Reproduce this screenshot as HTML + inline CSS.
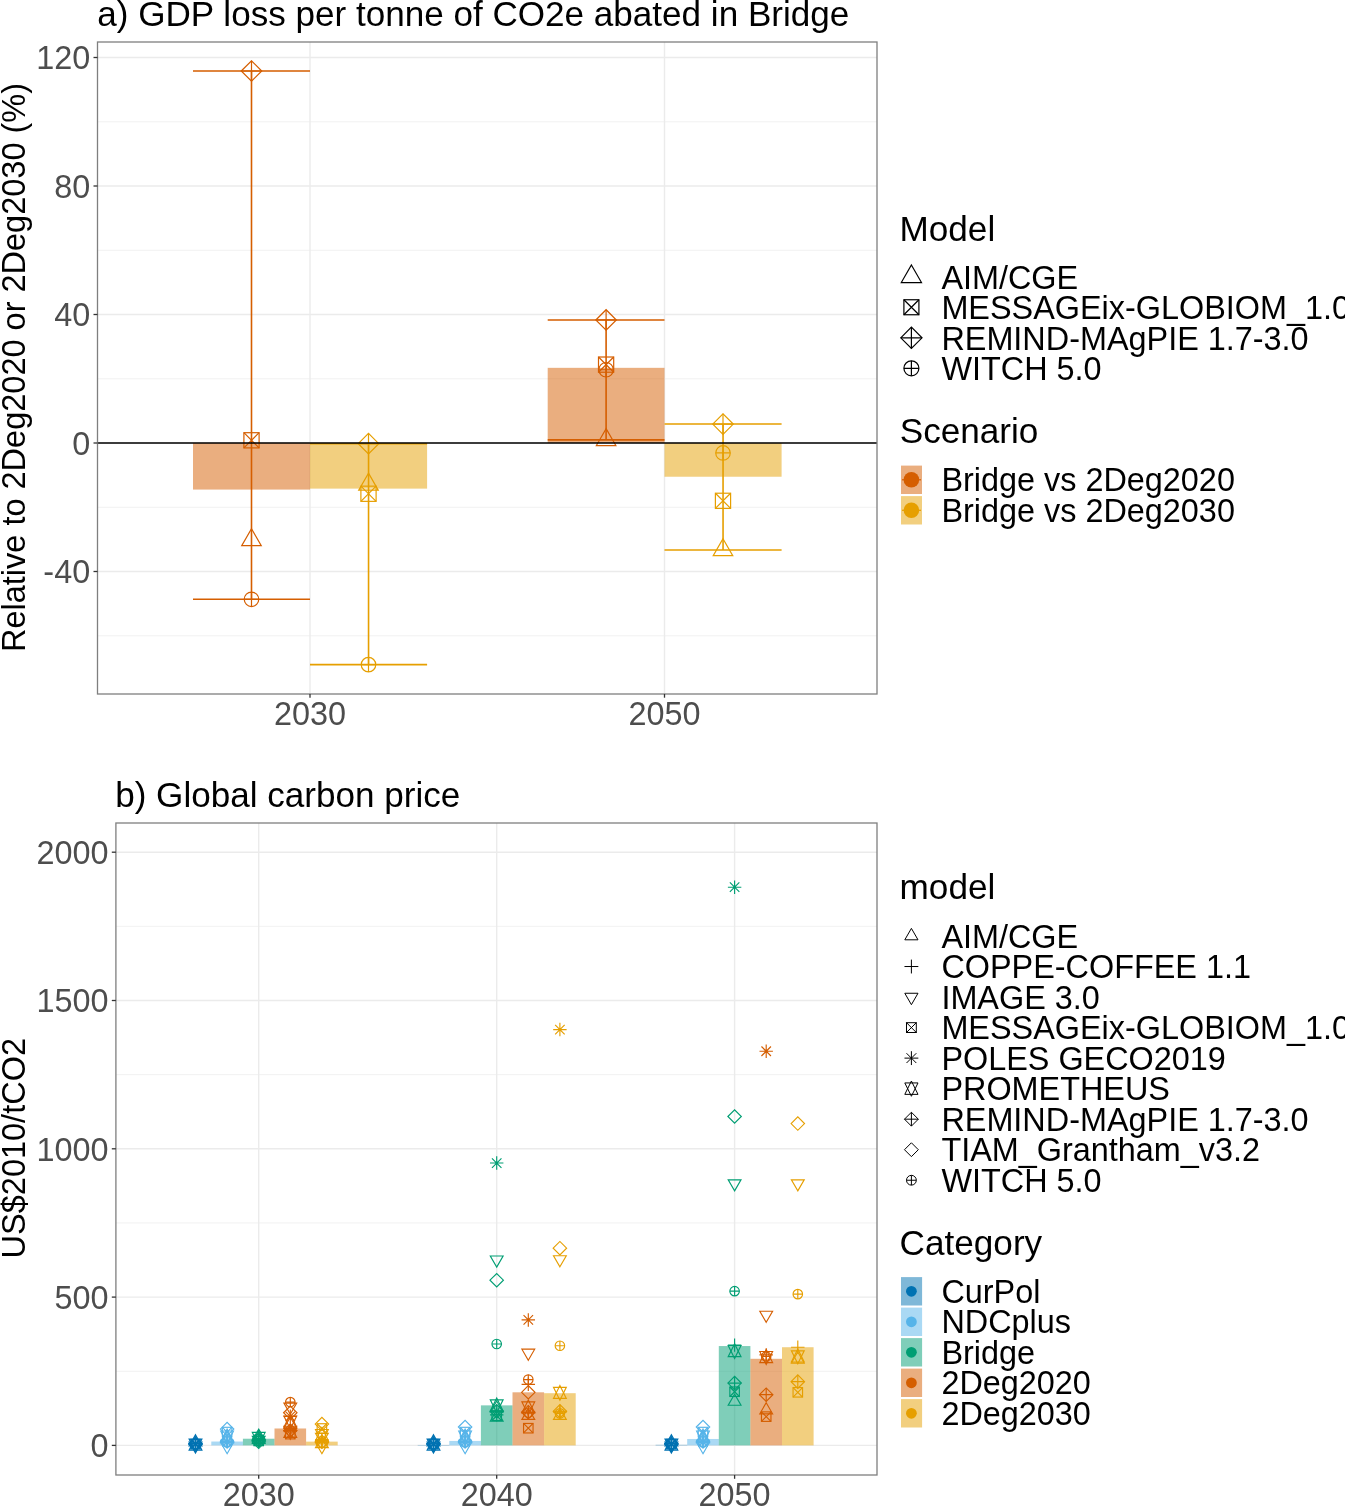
<!DOCTYPE html><html><head><meta charset="utf-8"><style>
html,body{margin:0;padding:0;background:#fff;}
body{width:1345px;height:1507px;overflow:hidden;}
svg{display:block;filter:blur(0.45px);}
text{font-family:"Liberation Sans",sans-serif;}
.tk{font-size:32.4px;fill:#4D4D4D;}
.ti{font-size:35.1px;fill:#000;}
.at{font-size:32.5px;fill:#000;}
.lt{font-size:35.15px;fill:#000;}
.lx{font-size:32.4px;fill:#000;}
</style></head><body><svg width="1345" height="1507" viewBox="0 0 1345 1507">
<rect width="1345" height="1507" fill="#fff"/>
<line x1="97.5" x2="877.0" y1="121.75" y2="121.75" stroke="#EBEBEB" stroke-width="0.7"/>
<line x1="97.5" x2="877.0" y1="250.25" y2="250.25" stroke="#EBEBEB" stroke-width="0.7"/>
<line x1="97.5" x2="877.0" y1="378.75" y2="378.75" stroke="#EBEBEB" stroke-width="0.7"/>
<line x1="97.5" x2="877.0" y1="507.25" y2="507.25" stroke="#EBEBEB" stroke-width="0.7"/>
<line x1="97.5" x2="877.0" y1="635.75" y2="635.75" stroke="#EBEBEB" stroke-width="0.7"/>
<line x1="97.5" x2="877.0" y1="57.5" y2="57.5" stroke="#EBEBEB" stroke-width="1.4"/>
<line x1="97.5" x2="877.0" y1="186" y2="186" stroke="#EBEBEB" stroke-width="1.4"/>
<line x1="97.5" x2="877.0" y1="314.5" y2="314.5" stroke="#EBEBEB" stroke-width="1.4"/>
<line x1="97.5" x2="877.0" y1="443" y2="443" stroke="#EBEBEB" stroke-width="1.4"/>
<line x1="97.5" x2="877.0" y1="571.5" y2="571.5" stroke="#EBEBEB" stroke-width="1.4"/>
<line x1="310" x2="310" y1="42.0" y2="694.0" stroke="#EBEBEB" stroke-width="1.4"/>
<line x1="664.5" x2="664.5" y1="42.0" y2="694.0" stroke="#EBEBEB" stroke-width="1.4"/>
<rect x="193" y="443" width="117" height="46.58" fill="#D55E00" fill-opacity="0.5"/>
<rect x="310" y="443" width="117.1" height="45.62" fill="#E69F00" fill-opacity="0.5"/>
<rect x="547.7" y="367.83" width="116.8" height="75.17" fill="#D55E00" fill-opacity="0.5"/>
<rect x="664.5" y="443" width="117.1" height="33.73" fill="#E69F00" fill-opacity="0.5"/>
<path d="M193 70.99H310M251.5 70.99V599.29M193 599.29H310" fill="none" stroke="#D55E00" stroke-width="1.6"/>
<path d="M310 443.8H427.1M368.55 443.8V664.66M310 664.66H427.1" fill="none" stroke="#E69F00" stroke-width="1.6"/>
<path d="M547.7 319.96H664.5M606.1 319.96V439.92M547.7 439.92H664.5" fill="none" stroke="#D55E00" stroke-width="1.6"/>
<path d="M664.5 424.05H781.6M723.05 424.05V549.98M664.5 549.98H781.6" fill="none" stroke="#E69F00" stroke-width="1.6"/>
<polygon points="241.25,70.99 251.5,60.74 261.75,70.99 251.5,81.25" fill="none" stroke="#D55E00" stroke-width="1.2"/><path d="M241.25 70.99H261.75M251.5 60.74V81.25" fill="none" stroke="#D55E00" stroke-width="1.2"/>
<rect x="243.9" y="432.7" width="15.2" height="15.2" fill="none" stroke="#D55E00" stroke-width="1.2"/><path d="M243.9 432.7L259.1 447.9M243.9 447.9L259.1 432.7" fill="none" stroke="#D55E00" stroke-width="1.2"/>
<polygon points="251.5,528.74 261.26,545.65 241.74,545.65" fill="none" stroke="#D55E00" stroke-width="1.2"/>
<circle cx="251.5" cy="599.29" r="7.25" fill="none" stroke="#D55E00" stroke-width="1.2"/><path d="M244.25 599.29H258.75M251.5 592.04V606.54" fill="none" stroke="#D55E00" stroke-width="1.2"/>
<polygon points="358.25,443.64 368.5,433.39 378.75,443.64 368.5,453.9" fill="none" stroke="#E69F00" stroke-width="1.2"/><path d="M358.25 443.64H378.75M368.5 433.39V453.9" fill="none" stroke="#E69F00" stroke-width="1.2"/>
<polygon points="368.5,473.17 378.26,490.08 358.74,490.08" fill="none" stroke="#E69F00" stroke-width="1.2"/>
<rect x="360.9" y="486.16" width="15.2" height="15.2" fill="none" stroke="#E69F00" stroke-width="1.2"/><path d="M360.9 486.16L376.1 501.36M360.9 501.36L376.1 486.16" fill="none" stroke="#E69F00" stroke-width="1.2"/>
<circle cx="368.5" cy="664.66" r="7.25" fill="none" stroke="#E69F00" stroke-width="1.2"/><path d="M361.25 664.66H375.75M368.5 657.41V671.91" fill="none" stroke="#E69F00" stroke-width="1.2"/>
<polygon points="595.85,319.96 606.1,309.71 616.35,319.96 606.1,330.21" fill="none" stroke="#D55E00" stroke-width="1.2"/><path d="M595.85 319.96H616.35M606.1 309.71V330.21" fill="none" stroke="#D55E00" stroke-width="1.2"/>
<rect x="598.5" y="357.01" width="15.2" height="15.2" fill="none" stroke="#D55E00" stroke-width="1.2"/><path d="M598.5 357.01L613.7 372.22M598.5 372.22L613.7 357.01" fill="none" stroke="#D55E00" stroke-width="1.2"/>
<circle cx="606.1" cy="369.75" r="7.25" fill="none" stroke="#D55E00" stroke-width="1.2"/><path d="M598.85 369.75H613.35M606.1 362.5V377" fill="none" stroke="#D55E00" stroke-width="1.2"/>
<polygon points="606.1,428.64 615.86,445.55 596.34,445.55" fill="none" stroke="#D55E00" stroke-width="1.2"/>
<polygon points="712.75,424.05 723,413.79 733.25,424.05 723,434.3" fill="none" stroke="#E69F00" stroke-width="1.2"/><path d="M712.75 424.05H733.25M723 413.79V434.3" fill="none" stroke="#E69F00" stroke-width="1.2"/>
<circle cx="723" cy="452.96" r="7.25" fill="none" stroke="#E69F00" stroke-width="1.2"/><path d="M715.75 452.96H730.25M723 445.71V460.21" fill="none" stroke="#E69F00" stroke-width="1.2"/>
<rect x="715.4" y="493.22" width="15.2" height="15.2" fill="none" stroke="#E69F00" stroke-width="1.2"/><path d="M715.4 493.22L730.6 508.43M715.4 508.43L730.6 493.22" fill="none" stroke="#E69F00" stroke-width="1.2"/>
<polygon points="723,538.7 732.76,555.61 713.24,555.61" fill="none" stroke="#E69F00" stroke-width="1.2"/>
<line x1="97.5" x2="877.0" y1="443" y2="443" stroke="#000" stroke-width="1.45"/>
<rect x="97.5" y="42.0" width="779.5" height="652" fill="none" stroke="#7f7f7f" stroke-width="1.3"/>
<line x1="93.5" x2="97.5" y1="57.5" y2="57.5" stroke="#333333" stroke-width="1.3"/>
<text x="90.2" y="69.4" text-anchor="end" class="tk">120</text>
<line x1="93.5" x2="97.5" y1="186" y2="186" stroke="#333333" stroke-width="1.3"/>
<text x="90.2" y="197.9" text-anchor="end" class="tk">80</text>
<line x1="93.5" x2="97.5" y1="314.5" y2="314.5" stroke="#333333" stroke-width="1.3"/>
<text x="90.2" y="326.4" text-anchor="end" class="tk">40</text>
<line x1="93.5" x2="97.5" y1="443" y2="443" stroke="#333333" stroke-width="1.3"/>
<text x="90.2" y="454.9" text-anchor="end" class="tk">0</text>
<line x1="93.5" x2="97.5" y1="571.5" y2="571.5" stroke="#333333" stroke-width="1.3"/>
<text x="90.2" y="583.4" text-anchor="end" class="tk">-40</text>
<line x1="310" x2="310" y1="694.0" y2="697.7" stroke="#333333" stroke-width="1.3"/>
<text x="310" y="725.2" text-anchor="middle" class="tk">2030</text>
<line x1="664.5" x2="664.5" y1="694.0" y2="697.7" stroke="#333333" stroke-width="1.3"/>
<text x="664.5" y="725.2" text-anchor="middle" class="tk">2050</text>
<text x="97.3" y="25.8" class="ti">a) GDP loss per tonne of CO2e abated in Bridge</text>
<text transform="translate(25.1 367.5) rotate(-90)" text-anchor="middle" class="at">Relative to 2Deg2020 or 2Deg2030 (%)</text>
<text x="899.5" y="240.7" class="lt">Model</text>
<polygon points="911.4,265.04 921.5,282.53 901.3,282.53" fill="none" stroke="#000" stroke-width="1.2"/>
<text x="941.4" y="288.7" class="lx">AIM/CGE</text>
<rect x="903.9" y="299.75" width="15" height="15" fill="none" stroke="#000" stroke-width="1.2"/><path d="M903.9 299.75L918.9 314.75M903.9 314.75L918.9 299.75" fill="none" stroke="#000" stroke-width="1.2"/>
<text x="941.4" y="319.25" class="lx">MESSAGEix-GLOBIOM_1.0</text>
<polygon points="900.79,337.8 911.4,327.19 922.01,337.8 911.4,348.41" fill="none" stroke="#000" stroke-width="1.2"/><path d="M900.79 337.8H922.01M911.4 327.19V348.41" fill="none" stroke="#000" stroke-width="1.2"/>
<text x="941.4" y="349.8" class="lx">REMIND-MAgPIE 1.7-3.0</text>
<circle cx="911.4" cy="368.35" r="7.5" fill="none" stroke="#000" stroke-width="1.2"/><path d="M903.9 368.35H918.9M911.4 360.85V375.85" fill="none" stroke="#000" stroke-width="1.2"/>
<text x="941.4" y="380.35" class="lx">WITCH 5.0</text>
<text x="899.7" y="442.9" class="lt">Scenario</text>
<rect x="901.0" y="465.6" width="21.0" height="28.4" fill="#D55E00" fill-opacity="0.5"/>
<line x1="902" x2="921" y1="479.8" y2="479.8" stroke="#D55E00" stroke-width="1.2"/>
<circle cx="911.4" cy="479.8" r="7.8" fill="#D55E00"/>
<text x="941.4" y="491.4" class="lx">Bridge vs 2Deg2020</text>
<rect x="901.0" y="496.1" width="21.0" height="28.4" fill="#E69F00" fill-opacity="0.5"/>
<line x1="902" x2="921" y1="510.3" y2="510.3" stroke="#E69F00" stroke-width="1.2"/>
<circle cx="911.4" cy="510.3" r="7.8" fill="#E69F00"/>
<text x="941.4" y="521.9" class="lx">Bridge vs 2Deg2030</text>
<line x1="115.9" x2="877.0" y1="1371.25" y2="1371.25" stroke="#EBEBEB" stroke-width="0.7"/>
<line x1="115.9" x2="877.0" y1="1222.95" y2="1222.95" stroke="#EBEBEB" stroke-width="0.7"/>
<line x1="115.9" x2="877.0" y1="1074.65" y2="1074.65" stroke="#EBEBEB" stroke-width="0.7"/>
<line x1="115.9" x2="877.0" y1="926.35" y2="926.35" stroke="#EBEBEB" stroke-width="0.7"/>
<line x1="115.9" x2="877.0" y1="1445.4" y2="1445.4" stroke="#EBEBEB" stroke-width="1.4"/>
<line x1="115.9" x2="877.0" y1="1297.1" y2="1297.1" stroke="#EBEBEB" stroke-width="1.4"/>
<line x1="115.9" x2="877.0" y1="1148.8" y2="1148.8" stroke="#EBEBEB" stroke-width="1.4"/>
<line x1="115.9" x2="877.0" y1="1000.5" y2="1000.5" stroke="#EBEBEB" stroke-width="1.4"/>
<line x1="115.9" x2="877.0" y1="852.2" y2="852.2" stroke="#EBEBEB" stroke-width="1.4"/>
<line x1="258.7" x2="258.7" y1="823.0" y2="1475.0" stroke="#EBEBEB" stroke-width="1.4"/>
<line x1="496.7" x2="496.7" y1="823.0" y2="1475.0" stroke="#EBEBEB" stroke-width="1.4"/>
<line x1="734.6" x2="734.6" y1="823.0" y2="1475.0" stroke="#EBEBEB" stroke-width="1.4"/>
<rect x="179.7" y="1445.4" width="31.6" height="0" fill="#0072B2" fill-opacity="0.5"/>
<rect x="211.3" y="1441.54" width="31.6" height="3.86" fill="#56B4E9" fill-opacity="0.5"/>
<rect x="242.9" y="1438.73" width="31.6" height="6.67" fill="#009E73" fill-opacity="0.5"/>
<rect x="274.5" y="1428.49" width="31.6" height="16.91" fill="#D55E00" fill-opacity="0.5"/>
<rect x="306.1" y="1441.63" width="31.6" height="3.77" fill="#E69F00" fill-opacity="0.5"/>
<rect x="417.7" y="1444.96" width="31.6" height="0.44" fill="#0072B2" fill-opacity="0.5"/>
<rect x="449.3" y="1440.95" width="31.6" height="4.45" fill="#56B4E9" fill-opacity="0.5"/>
<rect x="480.9" y="1405.36" width="31.6" height="40.04" fill="#009E73" fill-opacity="0.5"/>
<rect x="512.5" y="1392.31" width="31.6" height="53.09" fill="#D55E00" fill-opacity="0.5"/>
<rect x="544.1" y="1393.2" width="31.6" height="52.2" fill="#E69F00" fill-opacity="0.5"/>
<rect x="655.6" y="1444.81" width="31.6" height="0.59" fill="#0072B2" fill-opacity="0.5"/>
<rect x="687.2" y="1438.99" width="31.6" height="6.41" fill="#56B4E9" fill-opacity="0.5"/>
<rect x="718.8" y="1346.04" width="31.6" height="99.36" fill="#009E73" fill-opacity="0.5"/>
<rect x="750.4" y="1358.79" width="31.6" height="86.61" fill="#D55E00" fill-opacity="0.5"/>
<rect x="782" y="1347.23" width="31.6" height="98.17" fill="#E69F00" fill-opacity="0.5"/>
<polygon points="195.5,1434.75 201.9,1445.83 189.1,1445.83" fill="none" stroke="#0072B2" stroke-width="1.15"/>
<polygon points="195.5,1453.08 201.9,1442 189.1,1442" fill="none" stroke="#0072B2" stroke-width="1.15"/>
<polygon points="195.5,1437.12 201.9,1450.05 189.1,1450.05" fill="none" stroke="#0072B2" stroke-width="1.15"/><polygon points="195.5,1451.9 201.9,1438.97 189.1,1438.97" fill="none" stroke="#0072B2" stroke-width="1.15"/>
<path d="M190.75 1439.17L200.25 1448.67M190.75 1448.67L200.25 1439.17M188.78 1443.92H202.22M195.5 1437.2V1450.63" fill="none" stroke="#0072B2" stroke-width="1.15"/>
<rect x="190.75" y="1439.46" width="9.5" height="9.5" fill="none" stroke="#0072B2" stroke-width="1.15"/><path d="M190.75 1439.46L200.25 1448.96M190.75 1448.96L200.25 1439.46" fill="none" stroke="#0072B2" stroke-width="1.15"/>
<polygon points="188.78,1443.92 195.5,1437.2 202.22,1443.92 195.5,1450.63" fill="none" stroke="#0072B2" stroke-width="1.15"/><path d="M188.78 1443.92H202.22M195.5 1437.2V1450.63" fill="none" stroke="#0072B2" stroke-width="1.15"/>
<circle cx="195.5" cy="1443.62" r="4.75" fill="none" stroke="#0072B2" stroke-width="1.15"/><path d="M190.75 1443.62H200.25M195.5 1438.87V1448.37" fill="none" stroke="#0072B2" stroke-width="1.15"/>
<path d="M188.78 1443.32H202.22M195.5 1436.61V1450.04" fill="none" stroke="#0072B2" stroke-width="1.15"/>
<polygon points="188.78,1443.92 195.5,1437.2 202.22,1443.92 195.5,1450.63" fill="none" stroke="#0072B2" stroke-width="1.15"/>
<polygon points="220.38,1429.09 227.1,1422.37 233.82,1429.09 227.1,1435.8" fill="none" stroke="#56B4E9" stroke-width="1.15"/>
<rect x="222.35" y="1427.3" width="9.5" height="9.5" fill="none" stroke="#56B4E9" stroke-width="1.15"/><path d="M222.35 1427.3L231.85 1436.8M222.35 1436.8L231.85 1427.3" fill="none" stroke="#56B4E9" stroke-width="1.15"/>
<polygon points="227.1,1429.12 233.5,1442.04 220.7,1442.04" fill="none" stroke="#56B4E9" stroke-width="1.15"/><polygon points="227.1,1443.89 233.5,1430.96 220.7,1430.96" fill="none" stroke="#56B4E9" stroke-width="1.15"/>
<polygon points="227.1,1431.49 233.5,1442.57 220.7,1442.57" fill="none" stroke="#56B4E9" stroke-width="1.15"/>
<path d="M222.35 1437.09L231.85 1446.59M222.35 1446.59L231.85 1437.09M220.38 1441.84H233.82M227.1 1435.12V1448.56" fill="none" stroke="#56B4E9" stroke-width="1.15"/>
<polygon points="220.38,1441.25 227.1,1434.53 233.82,1441.25 227.1,1447.97" fill="none" stroke="#56B4E9" stroke-width="1.15"/><path d="M220.38 1441.25H233.82M227.1 1434.53V1447.97" fill="none" stroke="#56B4E9" stroke-width="1.15"/>
<circle cx="227.1" cy="1442.43" r="4.75" fill="none" stroke="#56B4E9" stroke-width="1.15"/><path d="M222.35 1442.43H231.85M227.1 1437.68V1447.18" fill="none" stroke="#56B4E9" stroke-width="1.15"/>
<path d="M220.38 1440.06H233.82M227.1 1433.34V1446.78" fill="none" stroke="#56B4E9" stroke-width="1.15"/>
<polygon points="227.1,1453.68 233.5,1442.6 220.7,1442.6" fill="none" stroke="#56B4E9" stroke-width="1.15"/>
<polygon points="433.5,1434.75 439.9,1445.83 427.1,1445.83" fill="none" stroke="#0072B2" stroke-width="1.15"/>
<polygon points="433.5,1453.08 439.9,1442 427.1,1442" fill="none" stroke="#0072B2" stroke-width="1.15"/>
<polygon points="433.5,1437.12 439.9,1450.05 427.1,1450.05" fill="none" stroke="#0072B2" stroke-width="1.15"/><polygon points="433.5,1451.9 439.9,1438.97 427.1,1438.97" fill="none" stroke="#0072B2" stroke-width="1.15"/>
<path d="M428.75 1439.17L438.25 1448.67M428.75 1448.67L438.25 1439.17M426.78 1443.92H440.22M433.5 1437.2V1450.63" fill="none" stroke="#0072B2" stroke-width="1.15"/>
<rect x="428.75" y="1439.46" width="9.5" height="9.5" fill="none" stroke="#0072B2" stroke-width="1.15"/><path d="M428.75 1439.46L438.25 1448.96M428.75 1448.96L438.25 1439.46" fill="none" stroke="#0072B2" stroke-width="1.15"/>
<polygon points="426.78,1443.92 433.5,1437.2 440.22,1443.92 433.5,1450.63" fill="none" stroke="#0072B2" stroke-width="1.15"/><path d="M426.78 1443.92H440.22M433.5 1437.2V1450.63" fill="none" stroke="#0072B2" stroke-width="1.15"/>
<circle cx="433.5" cy="1443.62" r="4.75" fill="none" stroke="#0072B2" stroke-width="1.15"/><path d="M428.75 1443.62H438.25M433.5 1438.87V1448.37" fill="none" stroke="#0072B2" stroke-width="1.15"/>
<path d="M426.78 1443.32H440.22M433.5 1436.61V1450.04" fill="none" stroke="#0072B2" stroke-width="1.15"/>
<polygon points="426.78,1443.92 433.5,1437.2 440.22,1443.92 433.5,1450.63" fill="none" stroke="#0072B2" stroke-width="1.15"/>
<polygon points="458.38,1427.01 465.1,1420.29 471.82,1427.01 465.1,1433.73" fill="none" stroke="#56B4E9" stroke-width="1.15"/>
<rect x="460.35" y="1427.3" width="9.5" height="9.5" fill="none" stroke="#56B4E9" stroke-width="1.15"/><path d="M460.35 1427.3L469.85 1436.8M460.35 1436.8L469.85 1427.3" fill="none" stroke="#56B4E9" stroke-width="1.15"/>
<polygon points="465.1,1429.12 471.5,1442.04 458.7,1442.04" fill="none" stroke="#56B4E9" stroke-width="1.15"/><polygon points="465.1,1443.89 471.5,1430.96 458.7,1430.96" fill="none" stroke="#56B4E9" stroke-width="1.15"/>
<polygon points="465.1,1431.49 471.5,1442.57 458.7,1442.57" fill="none" stroke="#56B4E9" stroke-width="1.15"/>
<path d="M460.35 1437.09L469.85 1446.59M460.35 1446.59L469.85 1437.09M458.38 1441.84H471.82M465.1 1435.12V1448.56" fill="none" stroke="#56B4E9" stroke-width="1.15"/>
<polygon points="458.38,1441.25 465.1,1434.53 471.82,1441.25 465.1,1447.97" fill="none" stroke="#56B4E9" stroke-width="1.15"/><path d="M458.38 1441.25H471.82M465.1 1434.53V1447.97" fill="none" stroke="#56B4E9" stroke-width="1.15"/>
<circle cx="465.1" cy="1442.43" r="4.75" fill="none" stroke="#56B4E9" stroke-width="1.15"/><path d="M460.35 1442.43H469.85M465.1 1437.68V1447.18" fill="none" stroke="#56B4E9" stroke-width="1.15"/>
<path d="M458.38 1440.06H471.82M465.1 1433.34V1446.78" fill="none" stroke="#56B4E9" stroke-width="1.15"/>
<polygon points="465.1,1453.68 471.5,1442.6 458.7,1442.6" fill="none" stroke="#56B4E9" stroke-width="1.15"/>
<polygon points="671.4,1434.75 677.8,1445.83 665,1445.83" fill="none" stroke="#0072B2" stroke-width="1.15"/>
<polygon points="671.4,1453.08 677.8,1442 665,1442" fill="none" stroke="#0072B2" stroke-width="1.15"/>
<polygon points="671.4,1437.12 677.8,1450.05 665,1450.05" fill="none" stroke="#0072B2" stroke-width="1.15"/><polygon points="671.4,1451.9 677.8,1438.97 665,1438.97" fill="none" stroke="#0072B2" stroke-width="1.15"/>
<path d="M666.65 1439.17L676.15 1448.67M666.65 1448.67L676.15 1439.17M664.68 1443.92H678.12M671.4 1437.2V1450.63" fill="none" stroke="#0072B2" stroke-width="1.15"/>
<rect x="666.65" y="1439.46" width="9.5" height="9.5" fill="none" stroke="#0072B2" stroke-width="1.15"/><path d="M666.65 1439.46L676.15 1448.96M666.65 1448.96L676.15 1439.46" fill="none" stroke="#0072B2" stroke-width="1.15"/>
<polygon points="664.68,1443.92 671.4,1437.2 678.12,1443.92 671.4,1450.63" fill="none" stroke="#0072B2" stroke-width="1.15"/><path d="M664.68 1443.92H678.12M671.4 1437.2V1450.63" fill="none" stroke="#0072B2" stroke-width="1.15"/>
<circle cx="671.4" cy="1443.62" r="4.75" fill="none" stroke="#0072B2" stroke-width="1.15"/><path d="M666.65 1443.62H676.15M671.4 1438.87V1448.37" fill="none" stroke="#0072B2" stroke-width="1.15"/>
<path d="M664.68 1443.32H678.12M671.4 1436.61V1450.04" fill="none" stroke="#0072B2" stroke-width="1.15"/>
<polygon points="664.68,1443.92 671.4,1437.2 678.12,1443.92 671.4,1450.63" fill="none" stroke="#0072B2" stroke-width="1.15"/>
<polygon points="696.28,1427.01 703,1420.29 709.72,1427.01 703,1433.73" fill="none" stroke="#56B4E9" stroke-width="1.15"/>
<rect x="698.25" y="1427.3" width="9.5" height="9.5" fill="none" stroke="#56B4E9" stroke-width="1.15"/><path d="M698.25 1427.3L707.75 1436.8M698.25 1436.8L707.75 1427.3" fill="none" stroke="#56B4E9" stroke-width="1.15"/>
<polygon points="703,1429.12 709.4,1442.04 696.6,1442.04" fill="none" stroke="#56B4E9" stroke-width="1.15"/><polygon points="703,1443.89 709.4,1430.96 696.6,1430.96" fill="none" stroke="#56B4E9" stroke-width="1.15"/>
<polygon points="703,1431.49 709.4,1442.57 696.6,1442.57" fill="none" stroke="#56B4E9" stroke-width="1.15"/>
<path d="M698.25 1437.09L707.75 1446.59M698.25 1446.59L707.75 1437.09M696.28 1441.84H709.72M703 1435.12V1448.56" fill="none" stroke="#56B4E9" stroke-width="1.15"/>
<polygon points="696.28,1441.25 703,1434.53 709.72,1441.25 703,1447.97" fill="none" stroke="#56B4E9" stroke-width="1.15"/><path d="M696.28 1441.25H709.72M703 1434.53V1447.97" fill="none" stroke="#56B4E9" stroke-width="1.15"/>
<circle cx="703" cy="1442.43" r="4.75" fill="none" stroke="#56B4E9" stroke-width="1.15"/><path d="M698.25 1442.43H707.75M703 1437.68V1447.18" fill="none" stroke="#56B4E9" stroke-width="1.15"/>
<path d="M696.28 1440.06H709.72M703 1433.34V1446.78" fill="none" stroke="#56B4E9" stroke-width="1.15"/>
<polygon points="703,1453.68 709.4,1442.6 696.6,1442.6" fill="none" stroke="#56B4E9" stroke-width="1.15"/>
<polygon points="258.7,1429.12 265.1,1440.2 252.3,1440.2" fill="none" stroke="#009E73" stroke-width="1.15"/>
<polygon points="258.7,1430.6 265.1,1443.53 252.3,1443.53" fill="none" stroke="#009E73" stroke-width="1.15"/><polygon points="258.7,1445.37 265.1,1432.44 252.3,1432.44" fill="none" stroke="#009E73" stroke-width="1.15"/>
<path d="M253.95 1434.72L263.45 1444.22M253.95 1444.22L263.45 1434.72M251.98 1439.47H265.42M258.7 1432.75V1446.19" fill="none" stroke="#009E73" stroke-width="1.15"/>
<polygon points="251.98,1440.06 258.7,1433.34 265.42,1440.06 258.7,1446.78" fill="none" stroke="#009E73" stroke-width="1.15"/><path d="M251.98 1440.06H265.42M258.7 1433.34V1446.78" fill="none" stroke="#009E73" stroke-width="1.15"/>
<circle cx="258.7" cy="1438.87" r="4.75" fill="none" stroke="#009E73" stroke-width="1.15"/><path d="M253.95 1438.87H263.45M258.7 1434.12V1443.62" fill="none" stroke="#009E73" stroke-width="1.15"/>
<rect x="253.95" y="1436.2" width="9.5" height="9.5" fill="none" stroke="#009E73" stroke-width="1.15"/><path d="M253.95 1436.2L263.45 1445.7M253.95 1445.7L263.45 1436.2" fill="none" stroke="#009E73" stroke-width="1.15"/>
<path d="M251.98 1438.87H265.42M258.7 1432.16V1445.59" fill="none" stroke="#009E73" stroke-width="1.15"/>
<polygon points="251.98,1441.84 258.7,1435.12 265.42,1441.84 258.7,1448.56" fill="none" stroke="#009E73" stroke-width="1.15"/>
<polygon points="258.7,1447.45 265.1,1436.37 252.3,1436.37" fill="none" stroke="#009E73" stroke-width="1.15"/>
<circle cx="290.3" cy="1402.1" r="4.75" fill="none" stroke="#D55E00" stroke-width="1.15"/><path d="M285.55 1402.1H295.05M290.3 1397.35V1406.85" fill="none" stroke="#D55E00" stroke-width="1.15"/>
<polygon points="290.3,1414.23 296.7,1403.15 283.9,1403.15" fill="none" stroke="#D55E00" stroke-width="1.15"/>
<polygon points="283.58,1412.77 290.3,1406.06 297.02,1412.77 290.3,1419.49" fill="none" stroke="#D55E00" stroke-width="1.15"/>
<path d="M285.55 1411.58L295.05 1421.08M285.55 1421.08L295.05 1411.58M283.58 1416.33H297.02M290.3 1409.62V1423.05" fill="none" stroke="#D55E00" stroke-width="1.15"/>
<polygon points="290.3,1414.29 296.7,1427.21 283.9,1427.21" fill="none" stroke="#D55E00" stroke-width="1.15"/><polygon points="290.3,1429.06 296.7,1416.13 283.9,1416.13" fill="none" stroke="#D55E00" stroke-width="1.15"/>
<polygon points="290.3,1417.25 296.7,1428.33 283.9,1428.33" fill="none" stroke="#D55E00" stroke-width="1.15"/>
<polygon points="283.58,1430.57 290.3,1423.85 297.02,1430.57 290.3,1437.29" fill="none" stroke="#D55E00" stroke-width="1.15"/><path d="M283.58 1430.57H297.02M290.3 1423.85V1437.29" fill="none" stroke="#D55E00" stroke-width="1.15"/>
<path d="M283.58 1431.16H297.02M290.3 1424.45V1437.88" fill="none" stroke="#D55E00" stroke-width="1.15"/>
<polygon points="290.3,1424.37 296.7,1437.3 283.9,1437.3" fill="none" stroke="#D55E00" stroke-width="1.15"/><polygon points="290.3,1439.14 296.7,1426.22 283.9,1426.22" fill="none" stroke="#D55E00" stroke-width="1.15"/>
<rect x="285.55" y="1429.38" width="9.5" height="9.5" fill="none" stroke="#D55E00" stroke-width="1.15"/><path d="M285.55 1429.38L295.05 1438.88M285.55 1438.88L295.05 1429.38" fill="none" stroke="#D55E00" stroke-width="1.15"/>
<polygon points="315.18,1424.04 321.9,1417.33 328.62,1424.04 321.9,1430.76" fill="none" stroke="#E69F00" stroke-width="1.15"/>
<rect x="317.15" y="1423.74" width="9.5" height="9.5" fill="none" stroke="#E69F00" stroke-width="1.15"/><path d="M317.15 1423.74L326.65 1433.24M317.15 1433.24L326.65 1423.74" fill="none" stroke="#E69F00" stroke-width="1.15"/>
<polygon points="321.9,1427.63 328.3,1440.56 315.5,1440.56" fill="none" stroke="#E69F00" stroke-width="1.15"/><polygon points="321.9,1442.41 328.3,1429.48 315.5,1429.48" fill="none" stroke="#E69F00" stroke-width="1.15"/>
<polygon points="321.9,1444.48 328.3,1433.4 315.5,1433.4" fill="none" stroke="#E69F00" stroke-width="1.15"/>
<path d="M317.15 1436.2L326.65 1445.7M317.15 1445.7L326.65 1436.2M315.18 1440.95H328.62M321.9 1434.23V1447.67" fill="none" stroke="#E69F00" stroke-width="1.15"/>
<polygon points="315.18,1441.84 321.9,1435.12 328.62,1441.84 321.9,1448.56" fill="none" stroke="#E69F00" stroke-width="1.15"/><path d="M315.18 1441.84H328.62M321.9 1435.12V1448.56" fill="none" stroke="#E69F00" stroke-width="1.15"/>
<circle cx="321.9" cy="1442.43" r="4.75" fill="none" stroke="#E69F00" stroke-width="1.15"/><path d="M317.15 1442.43H326.65M321.9 1437.68V1447.18" fill="none" stroke="#E69F00" stroke-width="1.15"/>
<polygon points="321.9,1436.53 328.3,1447.61 315.5,1447.61" fill="none" stroke="#E69F00" stroke-width="1.15"/>
<polygon points="321.9,1453.68 328.3,1442.6 315.5,1442.6" fill="none" stroke="#E69F00" stroke-width="1.15"/>
<path d="M315.18 1439.47H328.62M321.9 1432.75V1446.19" fill="none" stroke="#E69F00" stroke-width="1.15"/>
<path d="M491.95 1158.29L501.45 1167.79M491.95 1167.79L501.45 1158.29M489.98 1163.04H503.42M496.7 1156.32V1169.75" fill="none" stroke="#009E73" stroke-width="1.15"/>
<polygon points="496.7,1267.12 503.1,1256.03 490.3,1256.03" fill="none" stroke="#009E73" stroke-width="1.15"/>
<polygon points="489.98,1280.19 496.7,1273.48 503.42,1280.19 496.7,1286.91" fill="none" stroke="#009E73" stroke-width="1.15"/>
<circle cx="496.7" cy="1343.96" r="4.75" fill="none" stroke="#009E73" stroke-width="1.15"/><path d="M491.95 1343.96H501.45M496.7 1339.21V1348.71" fill="none" stroke="#009E73" stroke-width="1.15"/>
<polygon points="496.7,1397.97 503.1,1410.9 490.3,1410.9" fill="none" stroke="#009E73" stroke-width="1.15"/><polygon points="496.7,1412.75 503.1,1399.82 490.3,1399.82" fill="none" stroke="#009E73" stroke-width="1.15"/>
<polygon points="496.7,1400.94 503.1,1412.02 490.3,1412.02" fill="none" stroke="#009E73" stroke-width="1.15"/>
<polygon points="489.98,1411.29 496.7,1404.57 503.42,1411.29 496.7,1418.01" fill="none" stroke="#009E73" stroke-width="1.15"/><path d="M489.98 1411.29H503.42M496.7 1404.57V1418.01" fill="none" stroke="#009E73" stroke-width="1.15"/>
<path d="M489.98 1414.85H503.42M496.7 1408.13V1421.57" fill="none" stroke="#009E73" stroke-width="1.15"/>
<rect x="491.95" y="1410.99" width="9.5" height="9.5" fill="none" stroke="#009E73" stroke-width="1.15"/><path d="M491.95 1410.99L501.45 1420.49M491.95 1420.49L501.45 1410.99" fill="none" stroke="#009E73" stroke-width="1.15"/>
<polygon points="496.7,1410.13 503.1,1421.21 490.3,1421.21" fill="none" stroke="#009E73" stroke-width="1.15"/>
<path d="M523.55 1315.19L533.05 1324.69M523.55 1324.69L533.05 1315.19M521.58 1319.94H535.02M528.3 1313.22V1326.66" fill="none" stroke="#D55E00" stroke-width="1.15"/>
<polygon points="528.3,1360.25 534.7,1349.17 521.9,1349.17" fill="none" stroke="#D55E00" stroke-width="1.15"/>
<circle cx="528.3" cy="1379.55" r="4.75" fill="none" stroke="#D55E00" stroke-width="1.15"/><path d="M523.55 1379.55H533.05M528.3 1374.8V1384.3" fill="none" stroke="#D55E00" stroke-width="1.15"/>
<path d="M521.58 1384.3H535.02M528.3 1377.58V1391.02" fill="none" stroke="#D55E00" stroke-width="1.15"/>
<polygon points="521.58,1392.31 528.3,1385.59 535.02,1392.31 528.3,1399.03" fill="none" stroke="#D55E00" stroke-width="1.15"/>
<polygon points="528.3,1400.05 534.7,1412.98 521.9,1412.98" fill="none" stroke="#D55E00" stroke-width="1.15"/><polygon points="528.3,1414.82 534.7,1401.9 521.9,1401.9" fill="none" stroke="#D55E00" stroke-width="1.15"/>
<polygon points="521.58,1412.18 528.3,1405.46 535.02,1412.18 528.3,1418.9" fill="none" stroke="#D55E00" stroke-width="1.15"/><path d="M521.58 1412.18H535.02M528.3 1405.46V1418.9" fill="none" stroke="#D55E00" stroke-width="1.15"/>
<circle cx="528.3" cy="1412.77" r="4.75" fill="none" stroke="#D55E00" stroke-width="1.15"/><path d="M523.55 1412.77H533.05M528.3 1408.02V1417.52" fill="none" stroke="#D55E00" stroke-width="1.15"/>
<polygon points="528.3,1408.35 534.7,1419.43 521.9,1419.43" fill="none" stroke="#D55E00" stroke-width="1.15"/>
<rect x="523.55" y="1423.45" width="9.5" height="9.5" fill="none" stroke="#D55E00" stroke-width="1.15"/><path d="M523.55 1423.45L533.05 1432.95M523.55 1432.95L533.05 1423.45" fill="none" stroke="#D55E00" stroke-width="1.15"/>
<path d="M555.15 1024.82L564.65 1034.32M555.15 1034.32L564.65 1024.82M553.18 1029.57H566.62M559.9 1022.85V1036.28" fill="none" stroke="#E69F00" stroke-width="1.15"/>
<polygon points="553.18,1248.16 559.9,1241.44 566.62,1248.16 559.9,1254.88" fill="none" stroke="#E69F00" stroke-width="1.15"/>
<polygon points="559.9,1266.82 566.3,1255.74 553.5,1255.74" fill="none" stroke="#E69F00" stroke-width="1.15"/>
<circle cx="559.9" cy="1345.74" r="4.75" fill="none" stroke="#E69F00" stroke-width="1.15"/><path d="M555.15 1345.74H564.65M559.9 1340.99V1350.49" fill="none" stroke="#E69F00" stroke-width="1.15"/>
<polygon points="559.9,1385.51 566.3,1398.44 553.5,1398.44" fill="none" stroke="#E69F00" stroke-width="1.15"/><polygon points="559.9,1400.29 566.3,1387.36 553.5,1387.36" fill="none" stroke="#E69F00" stroke-width="1.15"/>
<polygon points="553.18,1411.29 559.9,1404.57 566.62,1411.29 559.9,1418.01" fill="none" stroke="#E69F00" stroke-width="1.15"/><path d="M553.18 1411.29H566.62M559.9 1404.57V1418.01" fill="none" stroke="#E69F00" stroke-width="1.15"/>
<path d="M553.18 1412.18H566.62M559.9 1405.46V1418.9" fill="none" stroke="#E69F00" stroke-width="1.15"/>
<polygon points="559.9,1408.35 566.3,1419.43 553.5,1419.43" fill="none" stroke="#E69F00" stroke-width="1.15"/>
<circle cx="559.9" cy="1413.37" r="4.75" fill="none" stroke="#E69F00" stroke-width="1.15"/><path d="M555.15 1413.37H564.65M559.9 1408.62V1418.12" fill="none" stroke="#E69F00" stroke-width="1.15"/>
<path d="M729.85 882.45L739.35 891.95M729.85 891.95L739.35 882.45M727.88 887.2H741.32M734.6 880.48V893.92" fill="none" stroke="#009E73" stroke-width="1.15"/>
<polygon points="727.88,1116.47 734.6,1109.75 741.32,1116.47 734.6,1123.19" fill="none" stroke="#009E73" stroke-width="1.15"/>
<polygon points="734.6,1190.89 741,1179.81 728.2,1179.81" fill="none" stroke="#009E73" stroke-width="1.15"/>
<circle cx="734.6" cy="1291.17" r="4.75" fill="none" stroke="#009E73" stroke-width="1.15"/><path d="M729.85 1291.17H739.35M734.6 1286.42V1295.92" fill="none" stroke="#009E73" stroke-width="1.15"/>
<path d="M727.88 1345.15H741.32M734.6 1338.43V1351.87" fill="none" stroke="#009E73" stroke-width="1.15"/>
<polygon points="734.6,1343.69 741,1356.62 728.2,1356.62" fill="none" stroke="#009E73" stroke-width="1.15"/><polygon points="734.6,1358.47 741,1345.54 728.2,1345.54" fill="none" stroke="#009E73" stroke-width="1.15"/>
<polygon points="727.88,1383.11 734.6,1376.4 741.32,1383.11 734.6,1389.83" fill="none" stroke="#009E73" stroke-width="1.15"/><path d="M727.88 1383.11H741.32M734.6 1376.4V1389.83" fill="none" stroke="#009E73" stroke-width="1.15"/>
<rect x="729.85" y="1386.97" width="9.5" height="9.5" fill="none" stroke="#009E73" stroke-width="1.15"/><path d="M729.85 1386.97L739.35 1396.47M729.85 1396.47L739.35 1386.97" fill="none" stroke="#009E73" stroke-width="1.15"/>
<polygon points="734.6,1394.12 741,1405.2 728.2,1405.2" fill="none" stroke="#009E73" stroke-width="1.15"/>
<path d="M761.45 1046.47L770.95 1055.97M761.45 1055.97L770.95 1046.47M759.48 1051.22H772.92M766.2 1044.5V1057.94" fill="none" stroke="#D55E00" stroke-width="1.15"/>
<polygon points="766.2,1322.28 772.6,1311.2 759.8,1311.2" fill="none" stroke="#D55E00" stroke-width="1.15"/>
<path d="M759.48 1354.94H772.92M766.2 1348.22V1361.65" fill="none" stroke="#D55E00" stroke-width="1.15"/>
<polygon points="766.2,1349.63 772.6,1362.55 759.8,1362.55" fill="none" stroke="#D55E00" stroke-width="1.15"/><polygon points="766.2,1364.4 772.6,1351.47 759.8,1351.47" fill="none" stroke="#D55E00" stroke-width="1.15"/>
<circle cx="766.2" cy="1356.42" r="4.75" fill="none" stroke="#D55E00" stroke-width="1.15"/><path d="M761.45 1356.42H770.95M766.2 1351.67V1361.17" fill="none" stroke="#D55E00" stroke-width="1.15"/>
<polygon points="759.48,1394.68 766.2,1387.96 772.92,1394.68 766.2,1401.4" fill="none" stroke="#D55E00" stroke-width="1.15"/><path d="M759.48 1394.68H772.92M766.2 1387.96V1401.4" fill="none" stroke="#D55E00" stroke-width="1.15"/>
<polygon points="766.2,1402.72 772.6,1413.8 759.8,1413.8" fill="none" stroke="#D55E00" stroke-width="1.15"/>
<rect x="761.45" y="1411.88" width="9.5" height="9.5" fill="none" stroke="#D55E00" stroke-width="1.15"/><path d="M761.45 1411.88L770.95 1421.38M761.45 1421.38L770.95 1411.88" fill="none" stroke="#D55E00" stroke-width="1.15"/>
<polygon points="791.08,1123.59 797.8,1116.87 804.52,1123.59 797.8,1130.31" fill="none" stroke="#E69F00" stroke-width="1.15"/>
<polygon points="797.8,1190.89 804.2,1179.81 791.4,1179.81" fill="none" stroke="#E69F00" stroke-width="1.15"/>
<circle cx="797.8" cy="1294.13" r="4.75" fill="none" stroke="#E69F00" stroke-width="1.15"/><path d="M793.05 1294.13H802.55M797.8 1289.38V1298.88" fill="none" stroke="#E69F00" stroke-width="1.15"/>
<path d="M791.08 1347.23H804.52M797.8 1340.51V1353.94" fill="none" stroke="#E69F00" stroke-width="1.15"/>
<polygon points="797.8,1349.03 804.2,1361.96 791.4,1361.96" fill="none" stroke="#E69F00" stroke-width="1.15"/><polygon points="797.8,1363.81 804.2,1350.88 791.4,1350.88" fill="none" stroke="#E69F00" stroke-width="1.15"/>
<polygon points="797.8,1352 804.2,1363.08 791.4,1363.08" fill="none" stroke="#E69F00" stroke-width="1.15"/>
<polygon points="791.08,1381.63 797.8,1374.91 804.52,1381.63 797.8,1388.35" fill="none" stroke="#E69F00" stroke-width="1.15"/><path d="M791.08 1381.63H804.52M797.8 1374.91V1388.35" fill="none" stroke="#E69F00" stroke-width="1.15"/>
<rect x="793.05" y="1387.56" width="9.5" height="9.5" fill="none" stroke="#E69F00" stroke-width="1.15"/><path d="M793.05 1387.56L802.55 1397.06M793.05 1397.06L802.55 1387.56" fill="none" stroke="#E69F00" stroke-width="1.15"/>
<rect x="115.9" y="823.0" width="761.1" height="652" fill="none" stroke="#7f7f7f" stroke-width="1.3"/>
<line x1="111.8" x2="115.9" y1="1445.4" y2="1445.4" stroke="#333333" stroke-width="1.3"/>
<text x="108.6" y="1457.3" text-anchor="end" class="tk">0</text>
<line x1="111.8" x2="115.9" y1="1297.1" y2="1297.1" stroke="#333333" stroke-width="1.3"/>
<text x="108.6" y="1309" text-anchor="end" class="tk">500</text>
<line x1="111.8" x2="115.9" y1="1148.8" y2="1148.8" stroke="#333333" stroke-width="1.3"/>
<text x="108.6" y="1160.7" text-anchor="end" class="tk">1000</text>
<line x1="111.8" x2="115.9" y1="1000.5" y2="1000.5" stroke="#333333" stroke-width="1.3"/>
<text x="108.6" y="1012.4" text-anchor="end" class="tk">1500</text>
<line x1="111.8" x2="115.9" y1="852.2" y2="852.2" stroke="#333333" stroke-width="1.3"/>
<text x="108.6" y="864.1" text-anchor="end" class="tk">2000</text>
<line x1="258.7" x2="258.7" y1="1475.0" y2="1478.8" stroke="#333333" stroke-width="1.3"/>
<text x="258.7" y="1505.5" text-anchor="middle" class="tk">2030</text>
<line x1="496.7" x2="496.7" y1="1475.0" y2="1478.8" stroke="#333333" stroke-width="1.3"/>
<text x="496.7" y="1505.5" text-anchor="middle" class="tk">2040</text>
<line x1="734.6" x2="734.6" y1="1475.0" y2="1478.8" stroke="#333333" stroke-width="1.3"/>
<text x="734.6" y="1505.5" text-anchor="middle" class="tk">2050</text>
<text x="115.2" y="806.6" class="ti">b) Global carbon price</text>
<text transform="translate(25.1 1148.2) rotate(-90)" text-anchor="middle" class="at">US$2010/tCO2</text>
<text x="899.6" y="899.1" class="lt">model</text>
<polygon points="911.4,928.38 918,939.81 904.8,939.81" fill="none" stroke="#000" stroke-width="1"/>
<text x="941.4" y="947.6" class="lx">AIM/CGE</text>
<path d="M904.47 966.53H918.33M911.4 959.6V973.46" fill="none" stroke="#000" stroke-width="1"/>
<text x="941.4" y="978.13" class="lx">COPPE-COFFEE 1.1</text>
<polygon points="911.4,1004.68 918,993.25 904.8,993.25" fill="none" stroke="#000" stroke-width="1"/>
<text x="941.4" y="1008.66" class="lx">IMAGE 3.0</text>
<rect x="906.5" y="1022.69" width="9.8" height="9.8" fill="none" stroke="#000" stroke-width="1"/><path d="M906.5 1022.69L916.3 1032.49M906.5 1032.49L916.3 1022.69" fill="none" stroke="#000" stroke-width="1"/>
<text x="941.4" y="1039.19" class="lx">MESSAGEix-GLOBIOM_1.0</text>
<path d="M906.5 1053.22L916.3 1063.02M906.5 1063.02L916.3 1053.22M904.47 1058.12H918.33M911.4 1051.19V1065.05" fill="none" stroke="#000" stroke-width="1"/>
<text x="941.4" y="1069.72" class="lx">POLES GECO2019</text>
<polygon points="911.4,1081.03 918,1094.37 904.8,1094.37" fill="none" stroke="#000" stroke-width="1"/><polygon points="911.4,1096.27 918,1082.93 904.8,1082.93" fill="none" stroke="#000" stroke-width="1"/>
<text x="941.4" y="1100.25" class="lx">PROMETHEUS</text>
<polygon points="904.47,1119.18 911.4,1112.25 918.33,1119.18 911.4,1126.11" fill="none" stroke="#000" stroke-width="1"/><path d="M904.47 1119.18H918.33M911.4 1112.25V1126.11" fill="none" stroke="#000" stroke-width="1"/>
<text x="941.4" y="1130.78" class="lx">REMIND-MAgPIE 1.7-3.0</text>
<polygon points="904.47,1149.71 911.4,1142.78 918.33,1149.71 911.4,1156.64" fill="none" stroke="#000" stroke-width="1"/>
<text x="941.4" y="1161.31" class="lx">TIAM_Grantham_v3.2</text>
<circle cx="911.4" cy="1180.24" r="4.9" fill="none" stroke="#000" stroke-width="1"/><path d="M906.5 1180.24H916.3M911.4 1175.34V1185.14" fill="none" stroke="#000" stroke-width="1"/>
<text x="941.4" y="1191.84" class="lx">WITCH 5.0</text>
<text x="899.6" y="1254.7" class="lt">Category</text>
<rect x="901.0" y="1277.1" width="21.1" height="28.4" fill="#0072B2" fill-opacity="0.5"/>
<circle cx="911.4" cy="1291.3" r="5.4" fill="#0072B2"/>
<text x="941.4" y="1302.8" class="lx">CurPol</text>
<rect x="901.0" y="1307.6" width="21.1" height="28.4" fill="#56B4E9" fill-opacity="0.5"/>
<circle cx="911.4" cy="1321.8" r="5.4" fill="#56B4E9"/>
<text x="941.4" y="1333.3" class="lx">NDCplus</text>
<rect x="901.0" y="1338.1" width="21.1" height="28.4" fill="#009E73" fill-opacity="0.5"/>
<circle cx="911.4" cy="1352.3" r="5.4" fill="#009E73"/>
<text x="941.4" y="1363.8" class="lx">Bridge</text>
<rect x="901.0" y="1368.6" width="21.1" height="28.4" fill="#D55E00" fill-opacity="0.5"/>
<circle cx="911.4" cy="1382.8" r="5.4" fill="#D55E00"/>
<text x="941.4" y="1394.3" class="lx">2Deg2020</text>
<rect x="901.0" y="1399.1" width="21.1" height="28.4" fill="#E69F00" fill-opacity="0.5"/>
<circle cx="911.4" cy="1413.3" r="5.4" fill="#E69F00"/>
<text x="941.4" y="1424.8" class="lx">2Deg2030</text>
</svg></body></html>
